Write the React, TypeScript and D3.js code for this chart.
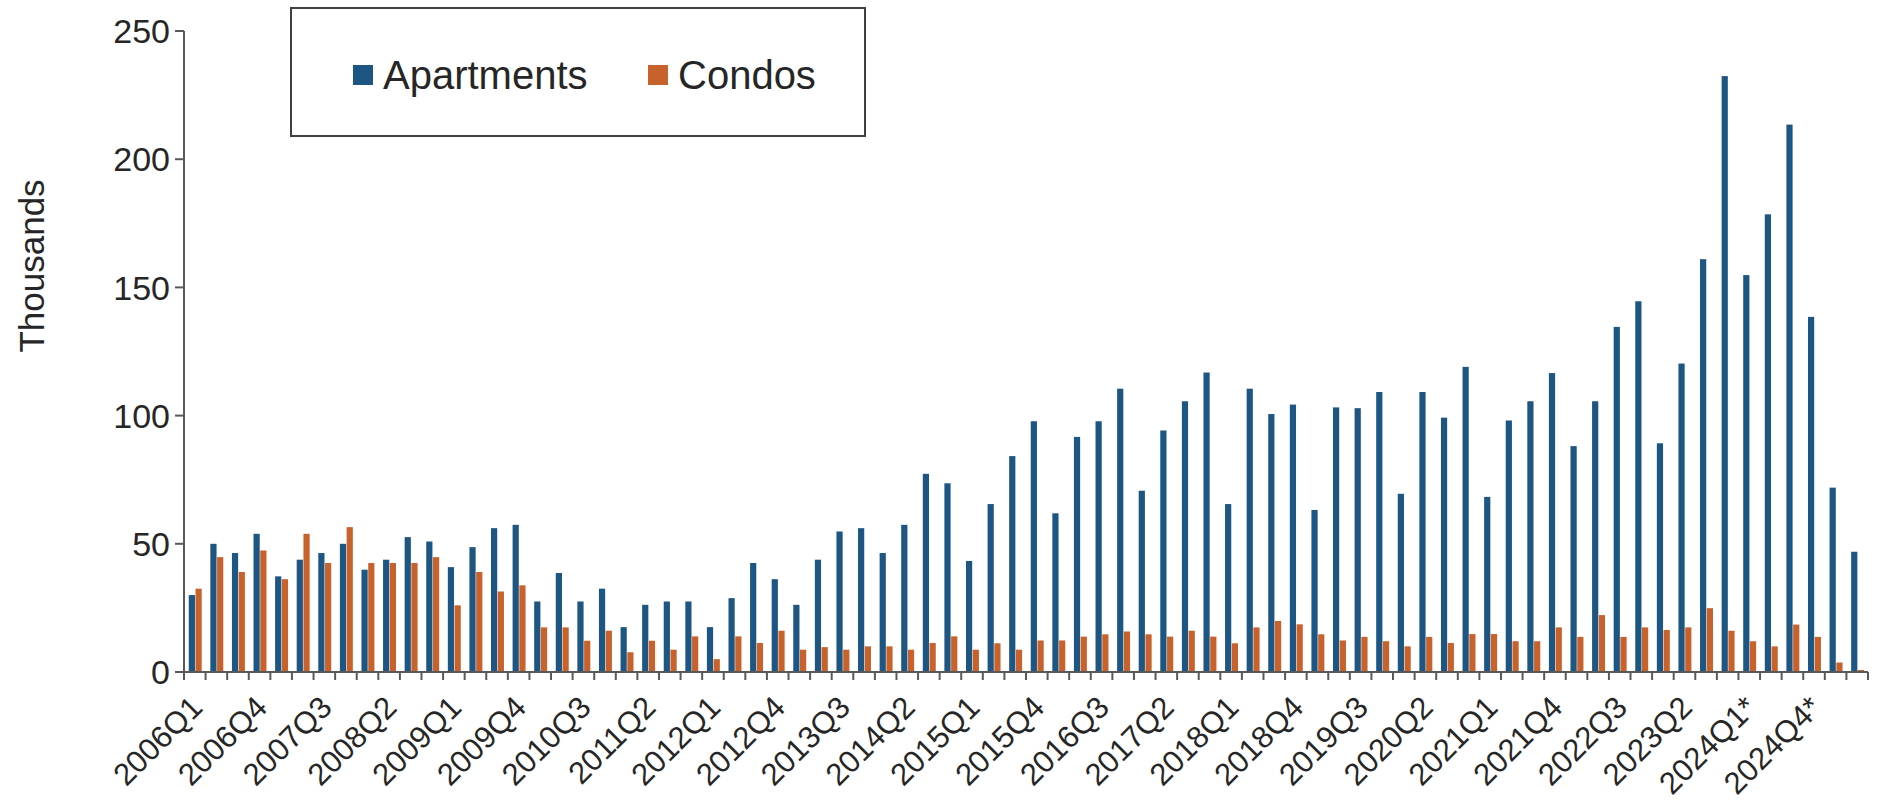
import React from "react";
import * as d3 from "d3";

// Quarterly completions (thousands of units); "*" marks forecast quarters.
const QUARTERS = [
  "2006Q1", "2006Q2", "2006Q3", "2006Q4",
  "2007Q1", "2007Q2", "2007Q3", "2007Q4",
  "2008Q1", "2008Q2", "2008Q3", "2008Q4",
  "2009Q1", "2009Q2", "2009Q3", "2009Q4",
  "2010Q1", "2010Q2", "2010Q3", "2010Q4",
  "2011Q1", "2011Q2", "2011Q3", "2011Q4",
  "2012Q1", "2012Q2", "2012Q3", "2012Q4",
  "2013Q1", "2013Q2", "2013Q3", "2013Q4",
  "2014Q1", "2014Q2", "2014Q3", "2014Q4",
  "2015Q1", "2015Q2", "2015Q3", "2015Q4",
  "2016Q1", "2016Q2", "2016Q3", "2016Q4",
  "2017Q1", "2017Q2", "2017Q3", "2017Q4",
  "2018Q1", "2018Q2", "2018Q3", "2018Q4",
  "2019Q1", "2019Q2", "2019Q3", "2019Q4",
  "2020Q1", "2020Q2", "2020Q3", "2020Q4",
  "2021Q1", "2021Q2", "2021Q3", "2021Q4",
  "2022Q1", "2022Q2", "2022Q3", "2022Q4",
  "2023Q1", "2023Q2", "2023Q3", "2023Q4",
  "2024Q1*", "2024Q2*", "2024Q3*", "2024Q4*",
  "2025Q1*", "2025Q2*",
];

const APARTMENTS = [
  30, 50, 46.4, 53.9, 37.3, 43.8, 46.4, 50, 39.9, 43.8, 52.6, 50.9,
  40.9, 48.7, 56.1, 57.4, 27.5, 38.6, 27.5, 32.5, 17.5, 26.2, 27.5, 27.5,
  17.5, 28.8, 42.5, 36.2, 26.2, 43.8, 54.8, 56.1, 46.4, 57.4, 77.3, 73.6,
  43.3, 65.5, 84.2, 97.8, 61.9, 91.7, 97.8, 110.5, 70.7, 94.2, 105.6, 116.8,
  65.5, 110.5, 100.6, 104.3, 63.2, 103.2, 102.9, 109.2, 69.5, 109.2, 99.2, 119,
  68.3, 98.1, 105.6, 116.6, 88.1, 105.6, 134.6, 144.6, 89.2, 120.3, 161, 232.4,
  154.8, 178.5, 213.5, 138.5, 71.9, 46.9,
];

const CONDOS = [
  32.5, 44.8, 39, 47.4, 36.2, 53.9, 42.5, 56.5, 42.5, 42.5, 42.5, 44.8,
  26, 39, 31.4, 33.8, 17.4, 17.4, 12.2, 16.1, 7.7, 12.2, 8.7, 13.9,
  5, 13.9, 11.3, 16.1, 8.7, 9.7, 8.7, 10, 10, 8.7, 11.3, 13.9,
  8.7, 11.2, 8.7, 12.3, 12.3, 13.8, 14.7, 15.8, 14.7, 13.8, 16.1, 13.8,
  11.2, 17.4, 19.9, 18.6, 14.7, 12.3, 13.7, 12, 10, 13.7, 11.3, 14.8,
  14.8, 12, 12, 17.4, 13.7, 22.2, 13.7, 17.4, 16.4, 17.4, 24.9, 16.1,
  12, 10, 18.5, 13.7, 3.7, 0.8,
];

const TICK_LABELS = [
  "2006Q1", "2006Q4", "2007Q3", "2008Q2", "2009Q1", "2009Q4", "2010Q3",
  "2011Q2", "2012Q1", "2012Q4", "2013Q3", "2014Q2", "2015Q1", "2015Q4",
  "2016Q3", "2017Q2", "2018Q1", "2018Q4", "2019Q3", "2020Q2", "2021Q1",
  "2021Q4", "2022Q3", "2023Q2", "2024Q1*", "2024Q4*",
];

const Y_TICKS = [0, 50, 100, 150, 200, 250];

const SERIES = ["Apartments", "Condos"];
const COLORS = ["#1D5682", "#C8622C"];

const W = 1883;
const H = 802;
const LEFT = 184;
const RIGHT = 1868;
const TOP = 31;
const BOTTOM = 672;
const FONT = "'Liberation Sans', Arial, Helvetica, sans-serif";
const TEXT = "#262626";
const AXIS = "#595959";

export default function App() {
  const x = d3.scaleBand<string>().domain(QUARTERS).range([LEFT, RIGHT]).padding(0);
  const inner = d3
    .scaleBand<string>()
    .domain(SERIES)
    .range([x.bandwidth() * 0.22, x.bandwidth() * 0.82])
    .paddingInner(0.08);
  const y = d3.scaleLinear().domain([0, 250]).range([BOTTOM, TOP]);

  const rows = QUARTERS.map((q, i) => ({ q, values: [APARTMENTS[i], CONDOS[i]] }));
  const boundaries = d3.range(QUARTERS.length + 1).map((i) => LEFT + i * x.step());

  return (
    <svg
      width={W}
      height={H}
      style={{ position: "absolute", left: 0, top: 0, background: "#fff" }}
      fontFamily={FONT}
    >
      <rect width={W} height={H} fill="#fff" />

      {/* bars */}
      {rows.map((r) => (
        <g key={r.q} transform={`translate(${x(r.q)},0)`}>
          {r.values.map((v, k) => (
            <rect
              key={SERIES[k]}
              x={inner(SERIES[k])}
              y={y(v)}
              width={inner.bandwidth()}
              height={BOTTOM - y(v)}
              fill={COLORS[k]}
            />
          ))}
        </g>
      ))}

      {/* y axis */}
      <line x1={LEFT} x2={LEFT} y1={TOP} y2={BOTTOM} stroke={AXIS} strokeWidth={2} />
      {Y_TICKS.map((t) => (
        <g key={t} transform={`translate(0,${y(t)})`}>
          <line x1={LEFT - 9} x2={LEFT} stroke={AXIS} strokeWidth={2} />
          <text x={LEFT - 14} dy="0.36em" textAnchor="end" fontSize={34} fill={TEXT}>
            {t}
          </text>
        </g>
      ))}
      <text
        transform={`translate(31,266) rotate(-90)`}
        textAnchor="middle"
        dy="0.36em"
        fontSize={35}
        fill={TEXT}
      >
        Thousands
      </text>

      {/* x axis */}
      <line x1={LEFT} x2={RIGHT} y1={BOTTOM} y2={BOTTOM} stroke={AXIS} strokeWidth={2} />
      {boundaries.map((bx, i) => (
        <line key={i} x1={bx} x2={bx} y1={BOTTOM} y2={BOTTOM + 8} stroke={AXIS} strokeWidth={2} />
      ))}
      {TICK_LABELS.map((lbl) => {
        const cx = (x(lbl) as number) + x.bandwidth() / 2;
        return (
          <text
            key={lbl}
            transform={`translate(${cx - 6},${BOTTOM + 22}) rotate(-45)`}
            textAnchor="end"
            dy="0.7em"
            fontSize={31}
            fill={TEXT}
          >
            {lbl}
          </text>
        );
      })}

      {/* legend */}
      <rect x={291} y={8} width={574} height={128} fill="#fff" stroke="#404040" strokeWidth={2} />
      {SERIES.map((s, k) => {
        const lx = k === 0 ? 353 : 648;
        return (
          <g key={s}>
            <rect x={lx} y={65} width={20} height={20} fill={COLORS[k]} />
            <text x={lx + 30} y={75} dy="0.36em" fontSize={40} fill={TEXT}>
              {s}
            </text>
          </g>
        );
      })}
    </svg>
  );
}
